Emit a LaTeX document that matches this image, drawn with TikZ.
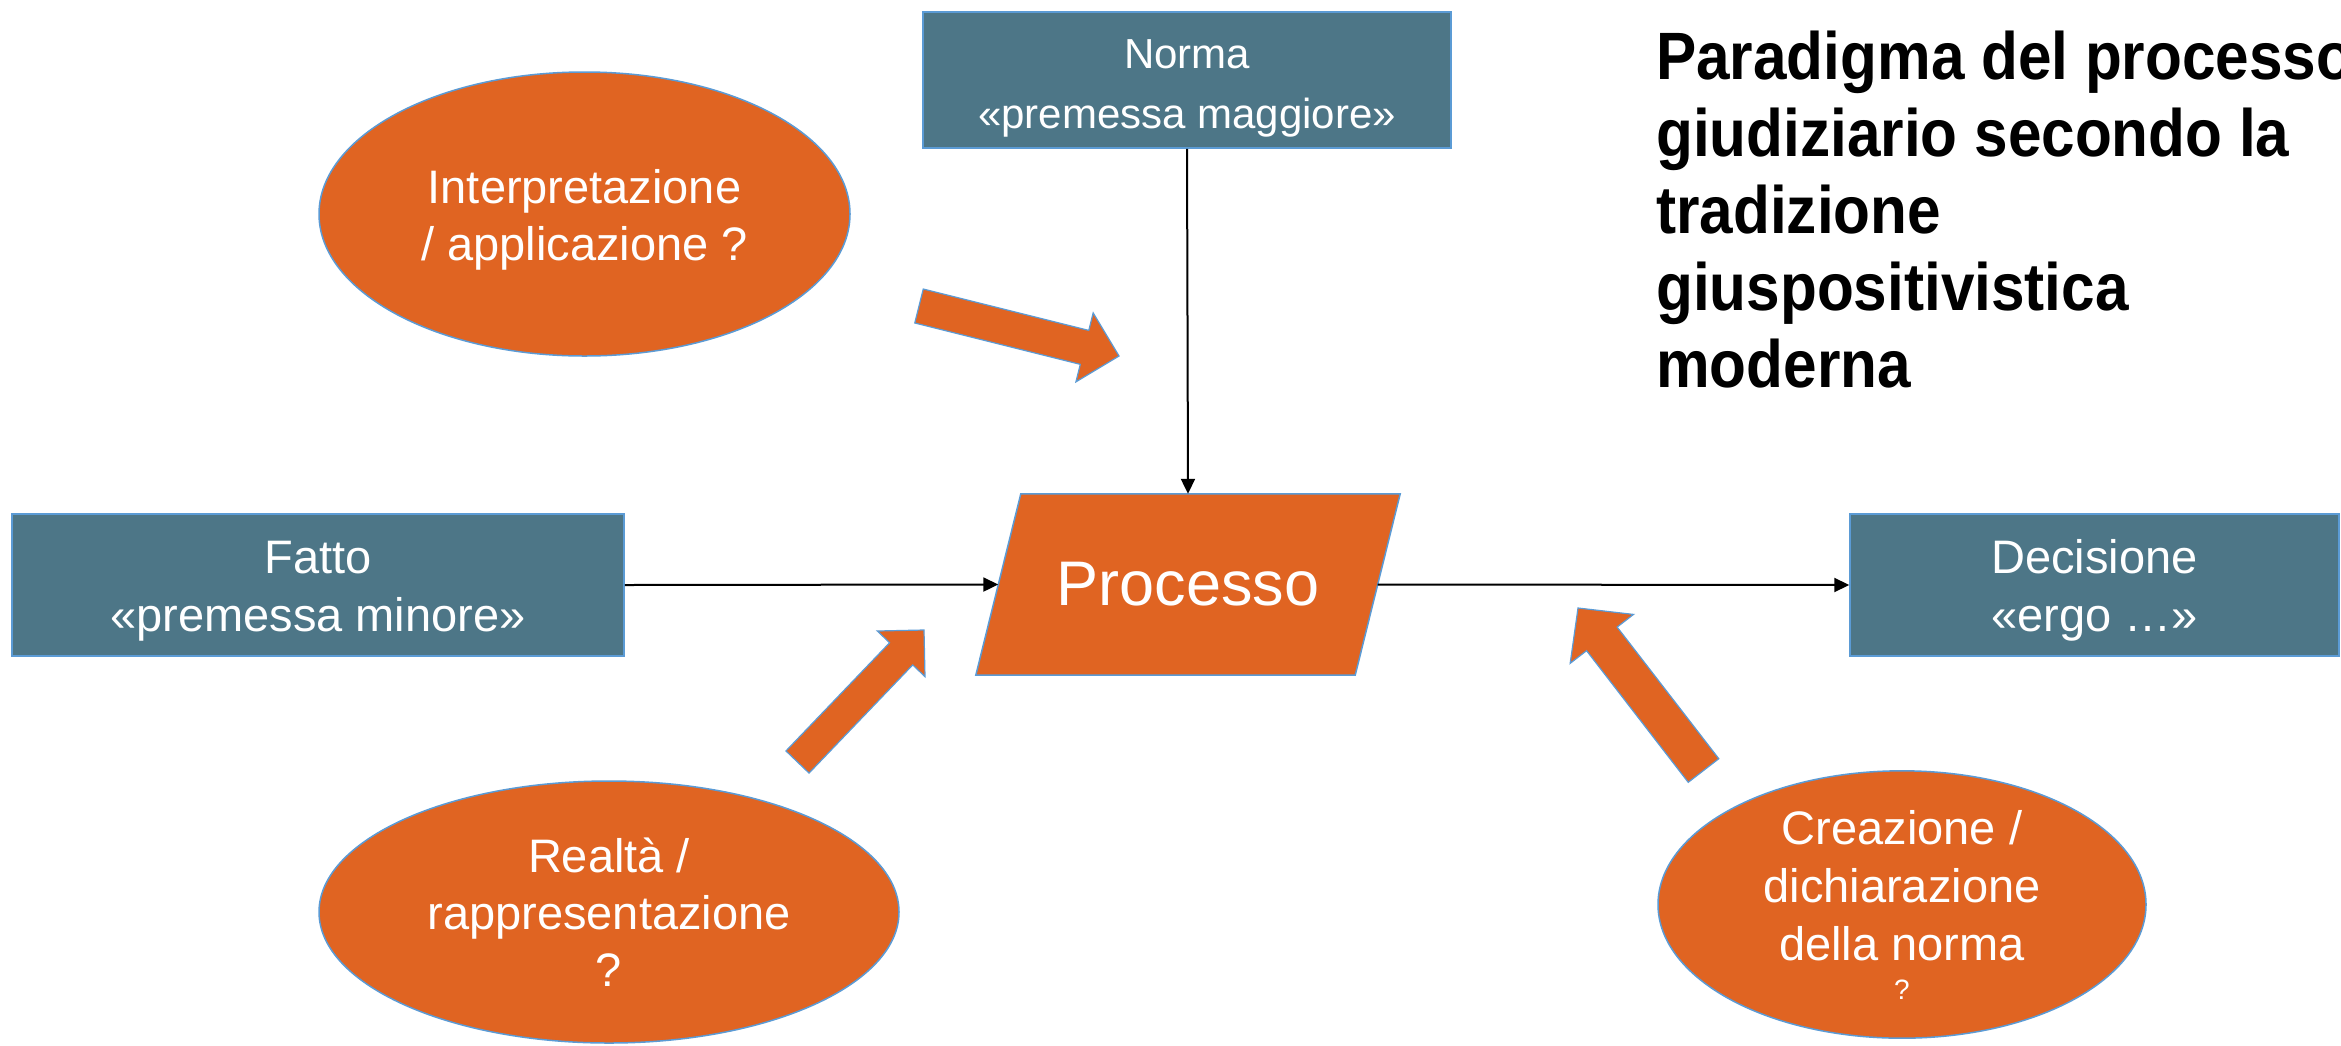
\documentclass[tikz,border=0pt]{standalone}
\usepackage{fontspec}
\setmainfont{Liberation Sans}
\newfontfamily\titlefont{Liberation Sans}[FakeStretch=0.9]
\usetikzlibrary{shapes.geometric,arrows.meta,calc,backgrounds}
\definecolor{orng}{HTML}{E06422}
\definecolor{slate}{HTML}{4D7687}
\definecolor{edgeblue}{HTML}{5B9BD5}
\tikzset{
  box/.style={rectangle, draw=edgeblue, line width=1.5pt, fill=slate, text=white,
    align=center, inner sep=0pt, font=\fontsize{47}{58}\selectfont},
  oval/.style={ellipse, draw=edgeblue, line width=1.5pt, fill=orng, text=white,
    align=center, inner sep=0pt, font=\fontsize{47}{57}\selectfont},
  conn/.style={line width=2pt, -{Triangle[length=15pt,width=14pt]}},
  blockarrow/.style={fill=orng, draw=edgeblue, line width=1.2pt, line join=miter},
  parashape/.style={fill=orng, draw=edgeblue, line width=1.5pt, line join=miter},
  titletext/.style={anchor=north west, align=left, inner sep=0pt,
    font=\titlefont\bfseries\fontsize{67}{77}\selectfont},
}
\newcommand\tup[1]{\rule{0pt}{#1}}
% tail, tip, half shaft width, half head width, head length
\newcommand\blkarrow[5]{%
  \coordinate (ba-h) at ($(#2)!#5!(#1)$);
  \filldraw[blockarrow] ($(#1)!#3!90:(#2)$) -- ($(ba-h)!#3!90:(#2)$)
    -- ($(ba-h)!#4!90:(#2)$) -- (#2) -- ($(ba-h)!#4!-90:(#2)$)
    -- ($(ba-h)!#3!-90:(#2)$) -- ($(#1)!#3!-90:(#2)$) -- cycle;
}
\begin{document}
\begin{tikzpicture}[x=1pt,y=-1pt]
\begin{scope}[on background layer]
\fill[white] (0,0) rectangle (2341,1045);
\end{scope}
\useasboundingbox (0,0) rectangle (2341,1045);

% boxes
\node[box, minimum width=528pt, minimum height=136pt, font=\fontsize{42}{60}\selectfont]
  (norma) at (1187,80) {\tup{46pt}Norma\\«premessa maggiore»};
\node[box, minimum width=612pt, minimum height=142pt] (fatto) at (318,585)
  {\tup{44pt}Fatto\\«premessa minore»};
\node[box, minimum width=489pt, minimum height=142pt] (dec) at (2094.5,585)
  {\tup{44pt}Decisione\\«ergo …»};

% process parallelogram (node = inner rectangle whose side midpoints lie on the slanted edges)
\node[rectangle, inner sep=0pt, minimum width=379pt, minimum height=181pt,
  text=white, font=\fontsize{63}{70}\selectfont] (proc) at (1188,584.5) {Processo};
\begin{scope}[on background layer]
\filldraw[parashape] ([xshift=22.5pt]proc.north west) -- ([xshift=22.5pt]proc.north east)
  -- ([xshift=-22.5pt]proc.south east) -- ([xshift=-22.5pt]proc.south west) -- cycle;
\end{scope}

% ellipses
\node[oval, minimum width=531pt, minimum height=284pt] (interp) at (584.5,214)
  {\tup{46pt}Interpretazione\\/ applicazione ?};
\node[oval, minimum width=580pt, minimum height=262pt] (realta) at (609,912)
  {Realtà /\\rappresentazione\\?};
\node[oval, minimum width=488pt, minimum height=245pt, font=\fontsize{47}{58}\selectfont]
  (creaz) at (1902,904.5)
  {Creazione /\\dichiarazione\\della norma\\[-19pt]{\fontsize{28}{30}\selectfont ?}};

% connectors
\draw[conn] (norma.south) -- (proc.north);
\draw[conn] (fatto.east) -- (proc.west);
\draw[conn] (proc.east) -- (dec.west);

% block arrows
\coordinate (a1t) at (919,306);   \coordinate (a1h) at (1119,356);
\coordinate (a2t) at (797.5,762); \coordinate (a2h) at (924,630);
\coordinate (a3t) at (1703.5,770.5); \coordinate (a3h) at (1578,608);
\blkarrow{a1t}{a1h}{17.5pt}{35.5pt}{35.5pt}
\blkarrow{a2t}{a2h}{16pt}{33pt}{33pt}
\blkarrow{a3t}{a3h}{19.3pt}{40pt}{39pt}

% title
\node[titletext] (title) at (1656,31)
  {Paradigma del processo\\giudiziario secondo la\\tradizione\\giuspositivistica\\moderna};
\end{tikzpicture}
\end{document}
